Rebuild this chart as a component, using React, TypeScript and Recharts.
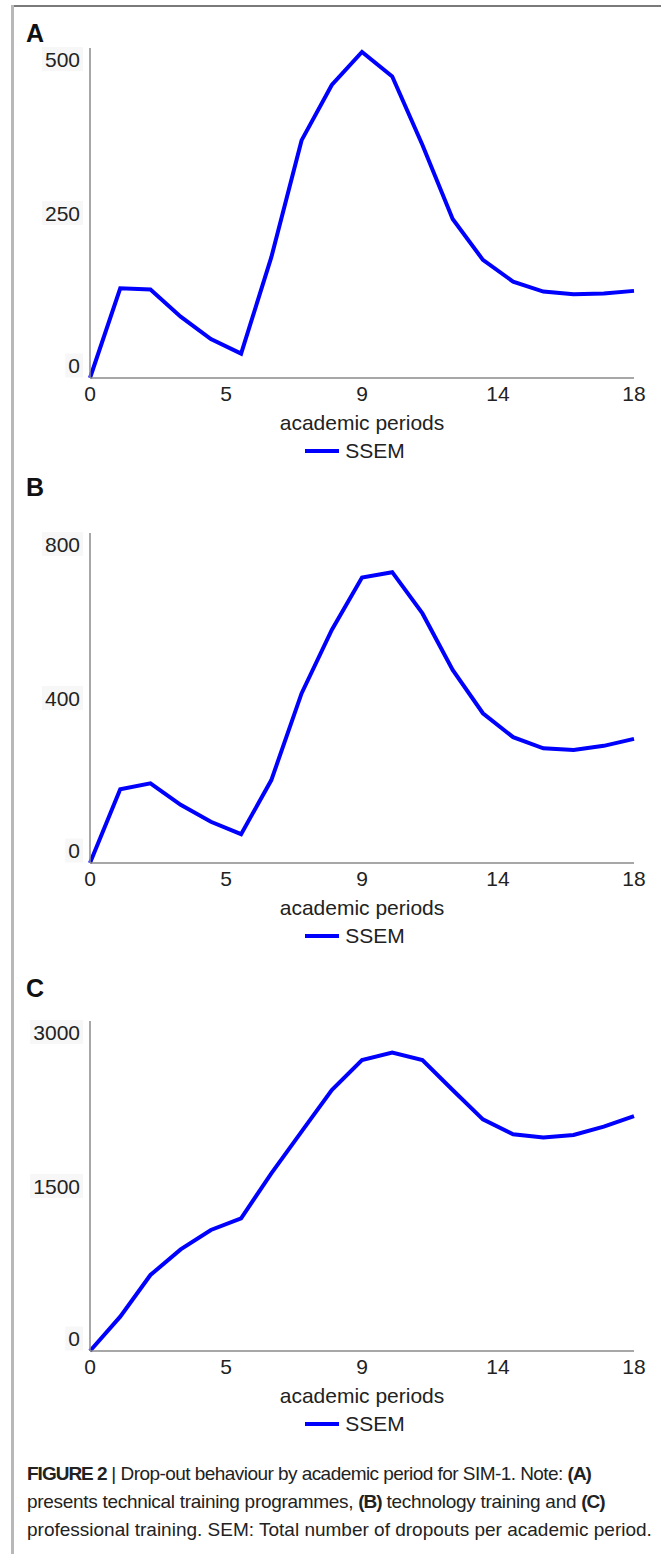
import { LineChart, Line, XAxis, YAxis, Legend } from 'recharts';

const periods = [0, 1, 2, 3, 4, 5, 6, 7, 8, 9, 10, 11, 12, 13, 14, 15, 16, 17, 18];

// SSEM per panel
const technicalSsem = [0, 136, 134, 93, 59, 37, 183, 360, 444, 494, 457, 353, 241, 179, 146, 131, 127, 128, 132];
const technologySsem = [0, 179, 193, 141, 100, 70, 201, 411, 565, 692, 705, 605, 468, 363, 305, 278, 274, 284, 301];
const professionalSsem = [0, 312, 691, 924, 1100, 1206, 1615, 1994, 2373, 2645, 2712, 2645, 2373, 2106, 1970, 1942, 1964, 2039, 2136];

const xTicks = [0, 4.5, 9, 13.5, 18];
const technicalTicks = [0, 250, 500];
const technologyTicks = [0, 400, 800];
const professionalTicks = [0, 1500, 3000];

const FONT = '"Liberation Sans", Arial, Helvetica, sans-serif';
const BLUE = '#0000ff';
const AXIS = '#8a8a8a';
const TEXT = '#222';

const XTick = ({ x, y, payload }: any) => (
  <text x={x} y={y} dy={15.5} textAnchor="middle" fill={TEXT} fontSize={21} fontFamily={FONT}>
    {Math.round(payload.value)}
  </text>
);

const makeYTick = (ticks: number[]) => ({ x, y, payload }: any) => {
  const v = payload.value;
  // bottom label sits above the axis, top label sits below the axis end
  const shift = v === 0 ? -12.5 : v === ticks[ticks.length - 1] ? 11 : 0;
  const label = String(v);
  const w = label.length * 11.7 + 6;
  return (
    <g>
      <rect x={x - w + 3} y={y + shift - 12} width={w} height={24} fill="#f7f7f7" />
      <text x={x} y={y + shift} dy={7.5} textAnchor="end" fill={TEXT} fontSize={21} fontFamily={FONT}>
        {label}
      </text>
    </g>
  );
};

const SsemLegend = () => (
  <div style={{ display: 'flex', justifyContent: 'center', alignItems: 'center', height: 26, fontFamily: FONT, fontSize: 21, color: TEXT }}>
    <span style={{ display: 'inline-block', width: 34, height: 4, background: BLUE, marginRight: 6 }} />
    <span>SSEM</span>
  </div>
);

const Panel = ({ values, ticks, top, letter, letterTop }: { values: number[]; ticks: number[]; top: number; letter: string; letterTop: number }) => {
  const rows = periods.map((p, i) => ({ period: p, ssem: values[i] }));
  return (
    <>
      <div style={{ position: 'absolute', left: 26, top: letterTop, fontFamily: FONT, fontWeight: 'bold', fontSize: 25, lineHeight: '25px', color: '#111' }}>
        {letter}
      </div>
      <div style={{ position: 'absolute', left: 0, top }}>
        <LineChart width={661} height={480} data={rows} margin={{ top: 40, right: 27, bottom: 50, left: 10 }}>
          <XAxis
            type="number"
            dataKey="period"
            domain={[0, 18]}
            ticks={xTicks}
            height={60}
            tickSize={0}
            tickMargin={7.5}
            tickLine={false}
            axisLine={{ stroke: AXIS, strokeWidth: 1.5 }}
            tick={<XTick />}
            label={{ value: 'academic periods', position: 'insideBottom', offset: 8, fill: TEXT, fontSize: 21, fontFamily: FONT }}
          />
          <YAxis
            type="number"
            domain={[0, ticks[ticks.length - 1]]}
            ticks={ticks}
            width={80}
            tickSize={0}
            tickMargin={10}
            tickLine={false}
            axisLine={{ stroke: AXIS, strokeWidth: 1.5 }}
            tick={makeYTick(ticks)}
          />
          <Legend
            verticalAlign="middle"
            layout="horizontal"
            content={<SsemLegend />}
            wrapperStyle={{ top: 430, left: 50, width: 610 }}
          />
          <Line
            type="linear"
            dataKey="ssem"
            name="SSEM"
            stroke={BLUE}
            strokeWidth={4}
            dot={false}
            activeDot={false}
            isAnimationActive={false}
          />
        </LineChart>
      </div>
    </>
  );
};

export default function App() {
  const bold = { fontWeight: 'bold' as const, letterSpacing: -1 };
  return (
    <div style={{ position: 'absolute', left: 0, top: 0, width: 661, height: 1554, background: '#fff', overflow: 'hidden' }}>
      <div style={{ position: 'absolute', left: 12, top: 5, width: 649, height: 2, background: '#7a7a7a' }} />
      <div style={{ position: 'absolute', left: 11, top: 5, width: 3, height: 1549, background: '#b8b8b8' }} />

      <Panel values={technicalSsem} ticks={technicalTicks} top={8} letter="A" letterTop={21} />
      <Panel values={technologySsem} ticks={technologyTicks} top={493} letter="B" letterTop={475} />
      <Panel values={professionalSsem} ticks={professionalTicks} top={981} letter="C" letterTop={976} />

      <div style={{ position: 'absolute', left: 27, top: 1460, width: 634, fontFamily: FONT, fontSize: 19, lineHeight: '28px', color: TEXT, whiteSpace: 'nowrap' }}>
        <div style={{ letterSpacing: -0.55 }}><span style={bold}>FIGURE 2</span> | Drop-out behaviour by academic period for SIM-1. Note: <span style={bold}>(A)</span></div>
        <div style={{ letterSpacing: -0.3 }}>presents technical training programmes, <span style={bold}>(B)</span> technology training and <span style={bold}>(C)</span></div>
        <div>professional training. SEM: Total number of dropouts per academic period.</div>
      </div>
    </div>
  );
}
